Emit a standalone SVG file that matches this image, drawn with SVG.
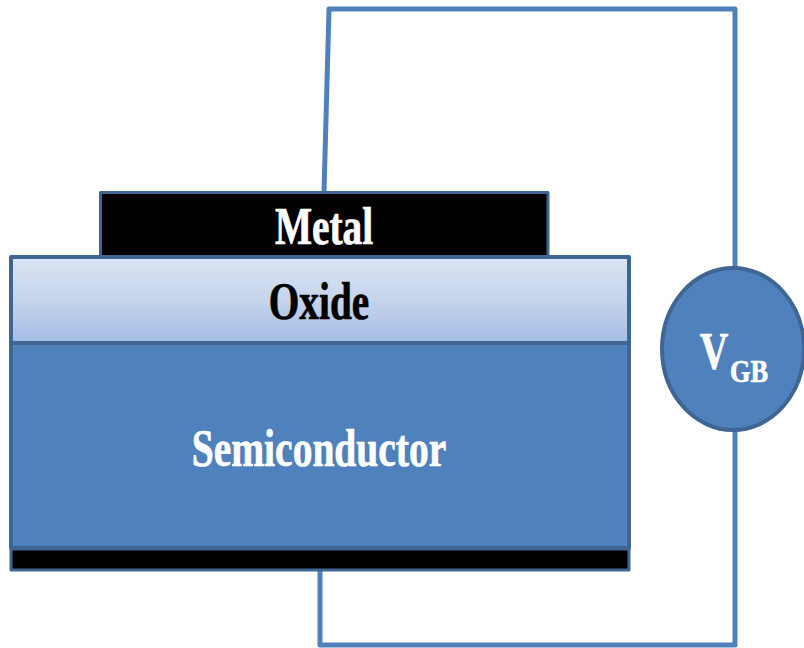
<svg xmlns="http://www.w3.org/2000/svg" width="804" height="648" viewBox="0 0 804 648">
<style>
.wire{fill:none;stroke:#4f81bd;stroke-width:5;stroke-linejoin:round}
.edge{stroke:#3f6593;stroke-width:4;stroke-linejoin:round}
.thin{stroke:#3f6593;stroke-width:3;stroke-linejoin:round}
.t{font-family:"Liberation Serif","Times New Roman",serif;font-weight:700;text-anchor:middle;stroke-width:.7}
.w{fill:#fff;stroke:#fff}
.k{fill:#000;stroke:#000}
</style>
<defs>
<linearGradient id="ox" x1="0" y1="0" x2="0" y2="1">
<stop offset="0" stop-color="#dbe5f3"/>
<stop offset="0.5" stop-color="#c6d4ec"/>
<stop offset="1" stop-color="#a2bce3"/>
</linearGradient>
</defs>
<rect width="804" height="648" fill="#fff"/>
<g id="connectors">
<path class="wire" d="M324 192L329 9H735V268"/>
<path class="wire" d="M320 570V645H735V430"/>
</g>
<g id="metal">
<rect class="thin" x="100.500" y="192.500" width="447.500" height="64" fill="#000"/>
<text class="t w" font-size="52" transform="translate(324 244) scale(.755 1)">Metal</text>
</g>
<g id="oxide">
<rect class="edge" x="11" y="257" width="618" height="86" fill="url(#ox)"/>
<text class="t k" font-size="52" transform="translate(319 319) scale(.755 1)">Oxide</text>
</g>
<g id="semiconductor">
<rect class="edge" x="11" y="343" width="618" height="205" fill="#4f81bd"/>
<text class="t w" font-size="52" transform="translate(319 466) scale(.76 1)">Semiconductor</text>
</g>
<g id="back-contact">
<rect class="thin" x="11" y="549" width="618" height="21" fill="#000"/>
</g>
<g id="source">
<ellipse class="edge" cx="733" cy="349" rx="71" ry="81" fill="#4f81bd"/>
<text class="t w" font-size="52" transform="translate(714 369) scale(.76 1)">V</text>
<text class="t w" font-size="31" transform="translate(749 382) scale(.85 1)">GB</text>
</g>
</svg>
